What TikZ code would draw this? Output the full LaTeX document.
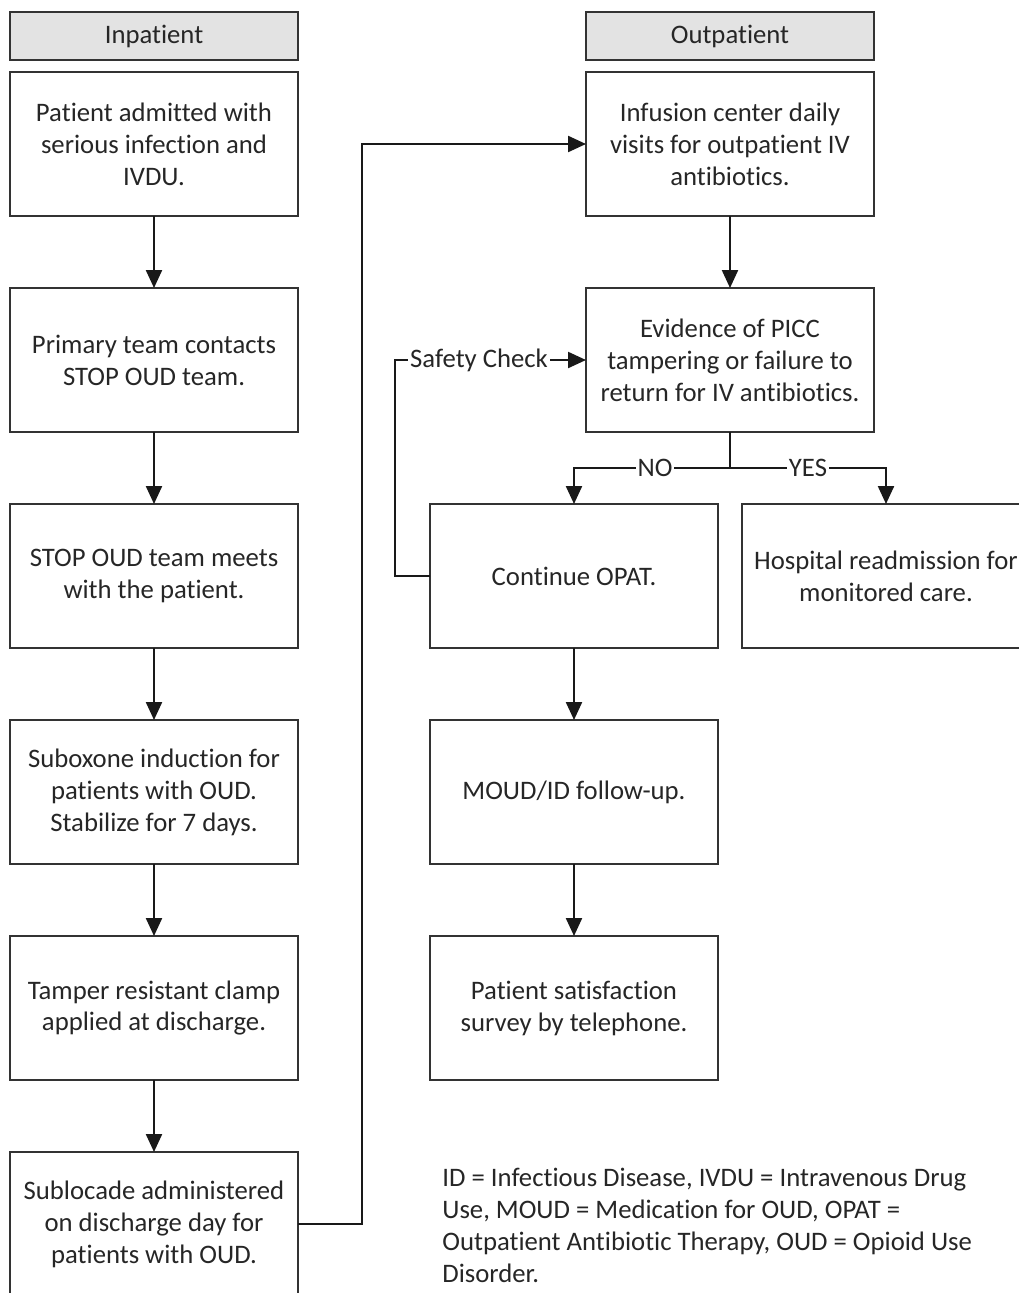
\documentclass[tikz,border=0pt]{standalone}
\usepackage{fontspec}
\setmainfont{Carlito}[RawFeature={-liga;-clig;-dlig;-calt}]
\usetikzlibrary{positioning, arrows.meta, calc}

\begin{document}
\begin{tikzpicture}[
    node distance=1.44cm,
    font=\fontsize{15.2}{18.2}\selectfont,
    every node/.style={text=black!85},
    header/.style={rectangle, draw=black!80, fill=gray!22, line width=0.8pt, minimum width=5.76cm, minimum height=0.96cm, inner sep=0pt, outer sep=0pt},
    stepbox/.style={rectangle, draw=black!80, line width=0.8pt, minimum width=5.76cm, minimum height=2.88cm, align=center, inner sep=0pt, outer sep=0pt},
    arrow/.style={-{Triangle[length=0.36cm, width=0.32cm]}, line width=1.3pt, draw=black!90},
    line/.style={line width=1.3pt, draw=black!90},
    tag/.style={fill=white, inner sep=1pt}
]
\useasboundingbox (0,0) rectangle (20.38,-25.86);

% Inpatient column
\node[header] (inpatient) at (3.08,-0.72) {Inpatient};
\node[stepbox, below=0.24cm of inpatient] (admit) {Patient admitted with\\serious infection and\\IVDU.};
\node[stepbox, below=of admit] (contact) {Primary team contacts\\STOP OUD team.};
\node[stepbox, below=of contact] (meet) {STOP OUD team meets\\with the patient.};
\node[stepbox, below=of meet] (induct) {Suboxone induction for\\patients with OUD.\\Stabilize for 7 days.};
\node[stepbox, below=of induct] (clamp) {Tamper resistant clamp\\applied at discharge.};
\node[stepbox, below=of clamp] (sublocade) {Sublocade administered\\on discharge day for\\patients with OUD.};

% Outpatient column
\node[header] (outpatient) at (14.6,-0.72) {Outpatient};
\node[stepbox, below=0.24cm of outpatient] (infusion) {Infusion center daily\\visits for outpatient IV\\antibiotics.};
\node[stepbox, below=of infusion] (evidence) {Evidence of PICC\\tampering or failure to\\return for IV antibiotics.};
\node[stepbox, below=of evidence, xshift=-3.12cm] (opat) {Continue OPAT.};
\node[stepbox, right=0.48cm of opat] (readmit) {Hospital readmission for\\monitored care.};
\node[stepbox, below=of opat] (followup) {MOUD/ID follow-up.};
\node[stepbox, below=of followup] (survey) {Patient satisfaction\\survey by telephone.};

% Abbreviations
\node[anchor=north west, align=left, inner sep=0pt] (legend) at (8.84,-23.36)
    {ID = Infectious Disease, IVDU = Intravenous Drug\\Use, MOUD = Medication for OUD, OPAT =\\Outpatient Antibiotic Therapy, OUD = Opioid Use\\Disorder.};

% Arrows
\draw[arrow] (admit) -- (contact);
\draw[arrow] (contact) -- (meet);
\draw[arrow] (meet) -- (induct);
\draw[arrow] (induct) -- (clamp);
\draw[arrow] (clamp) -- (sublocade);
\draw[arrow] (sublocade.east) -- ++(1.28,0) |- (infusion.west);
\draw[arrow] (infusion) -- (evidence);
\coordinate[below=0.72cm of evidence.south] (split);
\draw[line] (evidence.south) -- (split);
\draw[arrow] (split) -| node[tag, pos=0.24] {NO} (opat.north);
\draw[arrow] (split) -| node[tag, pos=0.25] {YES} (readmit.north);
\draw[arrow] (opat.west) -- ++(-0.7,0) |- node[tag, pos=0.72] {Safety Check} (evidence.west);
\draw[arrow] (opat) -- (followup);
\draw[arrow] (followup) -- (survey);

\end{tikzpicture}
\end{document}
